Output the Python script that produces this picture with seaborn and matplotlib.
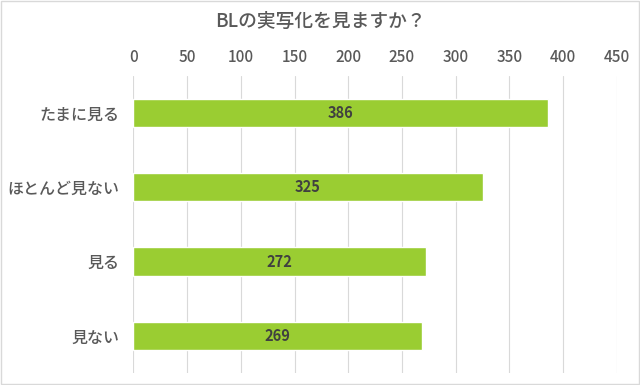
import matplotlib
matplotlib.use("Agg")
import matplotlib.pyplot as plt
import seaborn as sns
import pandas as pd
from matplotlib.patches import Rectangle

categories = ["たまに見る", "ほとんど見ない", "見る", "見ない"]
values = [386, 325, 272, 269]
xticks = [0, 50, 100, 150, 200, 250, 300, 350, 400, 450]
title = "BLの実写化を見ますか？"

sns.set_theme(style="white")
plt.rcParams['font.family'] = ['Noto Sans CJK JP', 'DejaVu Sans']

df = pd.DataFrame({"cat": categories, "val": values})
fig = plt.figure(figsize=(6.4, 3.85), dpi=100)
ax = fig.add_axes([0.2083, 0.031, 0.7557, 0.772])
sns.barplot(data=df, y="cat", x="val", color="#9acd32", saturation=1, width=0.38, ax=ax, orient="h")
ax.set_xlim(0, 450)
ax.set_ylim(3.5, -0.5)
ax.set_xticks(xticks)
ax.xaxis.tick_top()
ax.tick_params(axis="x", length=0, pad=7, labelsize=11, labelcolor="#595959")
ax.tick_params(axis="y", length=0, pad=10, labelsize=11.5, labelcolor="#595959")
for lbl in ax.get_xticklabels() + ax.get_yticklabels():
    lbl.set_fontweight("medium")
ax.set_xlabel("")
ax.set_ylabel("")
for s in ax.spines.values():
    s.set_visible(False)
ax.grid(axis="x", color="#d9d9d9", linewidth=0.8)
ax.set_axisbelow(True)
for c in ax.containers:
    ax.bar_label(c, label_type="center", fontsize=10.5, fontweight="bold", color="#404040")
fig.text(0.5, 0.943, title, ha="center", va="center", fontsize=13.5, fontweight="medium", color="#595959")
fig.patches.append(Rectangle((0.001, 0.002), 0.997, 0.996, transform=fig.transFigure,
                             fill=False, edgecolor="#d9d9d9", linewidth=1))
fig.savefig("out.png", dpi=100)
